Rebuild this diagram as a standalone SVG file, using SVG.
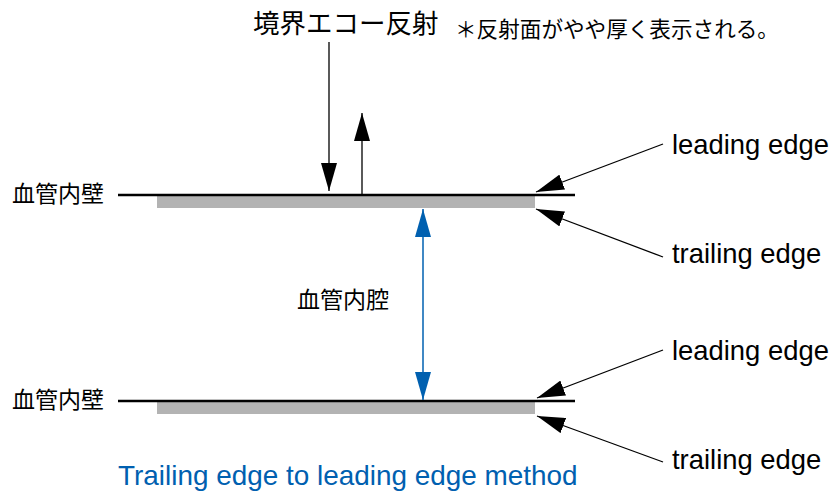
<svg xmlns="http://www.w3.org/2000/svg" width="833" height="493" viewBox="0 0 833 493">
<defs>
<style>
.jp{font-family:"Noto Sans CJK JP","Noto Sans",sans-serif;fill:#000}
.en{font-family:"Liberation Sans",Arial,sans-serif;fill:#000}
.wall{stroke:#000;stroke-width:2.5}
.layer{fill:#b3b3b3}
.k{stroke:#000;stroke-width:1.3;fill:none}
.b{stroke:#0060b0;stroke-width:1.5;fill:none}
</style>
<marker id="ak" viewBox="0 0 28 16" refX="28" refY="8" markerWidth="28" markerHeight="16" markerUnits="userSpaceOnUse" orient="auto-start-reverse">
<path d="M0,0 L28,8 L0,16 Z" fill="#000"/>
</marker>
<marker id="ab" viewBox="0 0 28 16" refX="28" refY="8" markerWidth="28" markerHeight="16" markerUnits="userSpaceOnUse" orient="auto-start-reverse">
<path d="M0,0 L28,8 L0,16 Z" fill="#0060b0"/>
</marker>
</defs>
<rect width="833" height="493" fill="#fff"/>

<g id="title">
<text class="jp" x="253" y="33" font-size="26.5">境界エコー反射</text>
<text class="jp" x="455" y="37" font-size="21.6">＊反射面がやや厚く表示される。</text>
</g>

<g id="wall-top">
<rect class="layer" x="157" y="196" width="378" height="12"/>
<line class="wall" x1="118" y1="195" x2="575" y2="195"/>
<text class="jp" x="12" y="202" font-size="23">血管内壁</text>
</g>

<g id="wall-bottom">
<rect class="layer" x="157" y="402" width="378" height="12"/>
<line class="wall" x1="118" y1="401" x2="575" y2="401"/>
<text class="jp" x="12" y="408" font-size="23">血管内壁</text>
</g>

<g id="lumen">
<text class="jp" x="297" y="308" font-size="23">血管内腔</text>
</g>

<g id="labels">
<text class="en" x="672" y="154" font-size="27.4">leading edge</text>
<text class="en" x="672" y="263" font-size="27.4">trailing edge</text>
<text class="en" x="672" y="360" font-size="27.4">leading edge</text>
<text class="en" x="672" y="469" font-size="27.4">trailing edge</text>
<text class="en" x="118" y="485" font-size="27.9" style="fill:#0060b0">Trailing edge to leading edge method</text>
</g>

<g id="connectors">
<line class="k" x1="329" y1="42" x2="329" y2="191" marker-end="url(#ak)"/>
<line class="k" x1="362" y1="194" x2="362" y2="113" marker-end="url(#ak)"/>
<line class="k" x1="663" y1="144" x2="536" y2="192" marker-end="url(#ak)"/>
<line class="k" x1="663" y1="257" x2="536" y2="209" marker-end="url(#ak)"/>
<line class="k" x1="663" y1="350" x2="537" y2="398" marker-end="url(#ak)"/>
<line class="k" x1="663" y1="462" x2="537" y2="416" marker-end="url(#ak)"/>
<line class="b" x1="423" y1="209" x2="423" y2="400" marker-start="url(#ab)" marker-end="url(#ab)"/>
</g>
</svg>
